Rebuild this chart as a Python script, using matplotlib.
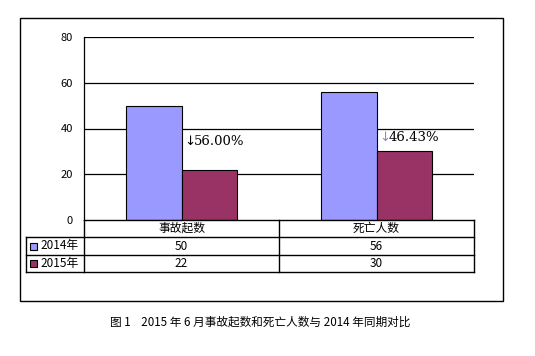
import matplotlib
matplotlib.use("Agg")
import matplotlib.pyplot as plt
from matplotlib.patches import Rectangle
from matplotlib.lines import Line2D

plt.rcParams['font.family'] = ['Noto Sans CJK SC', 'DejaVu Sans']

categories = ['事故起数', '死亡人数']
series_names = ['2014年', '2015年']
values_2014 = [50, 56]
values_2015 = [22, 30]
colors = ['#9999FF', '#993366']
yticks = [0, 20, 40, 60, 80]
caption = '图 1    2015 年 6 月事故起数和死亡人数与 2014 年同期对比'

W, H = 535, 356
fig = plt.figure(figsize=(W / 100, H / 100), dpi=100)

def fx(px):
    return px / W

def fy(py):
    return 1 - py / H

# plot area in pixels
L, R, T, B = 84, 474, 37, 220
ax = fig.add_axes([fx(L), fy(B), fx(R) - fx(L), fy(T) - fy(B)])

bw = 0.287
x = list(range(len(categories)))
ax.bar([i - bw / 2 for i in x], values_2014, bw, color=colors[0], edgecolor='black', linewidth=0.8, zorder=3)
ax.bar([i + bw / 2 for i in x], values_2015, bw, color=colors[1], edgecolor='black', linewidth=0.8, zorder=3)

ax.set_xlim(-0.5, len(categories) - 0.5)
ax.set_ylim(0, 80)
ax.set_yticks(yticks)
ax.set_yticklabels([str(t) for t in yticks], fontsize=8)
ax.tick_params(axis='y', length=0, pad=8)
ax.set_xticks([])
for t in yticks[1:]:
    ax.axhline(t, color='black', linewidth=0.9, zorder=1)
for s in ['top', 'right', 'bottom']:
    ax.spines[s].set_visible(False)
ax.spines['left'].set_linewidth(0.9)

# annotations
arrow_colors = ['black', '#7f8fc8']
for i, (a, b) in enumerate(zip(values_2014, values_2015)):
    pct = (a - b) / a * 100
    yy = [34.5, 36.0][i]
    ax.text(i + 0.012, yy, '↓', color=arrow_colors[i], fontsize=9.5,
            ha='left', va='center', family=['DejaVu Sans'])
    ax.text(i + 0.062, yy, f'{pct:.2f}%', color='black', fontsize=9.5,
            ha='left', va='center', family=['DejaVu Serif'])

# data table drawn below the axes
row_y = [220, 237, 255, 272]
col_x = [26, 84, 279, 474]
lw = 1.0
def hline(y, x0, x1):
    fig.add_artist(Line2D([fx(x0), fx(x1)], [fy(y), fy(y)], color='black', linewidth=lw))
def vline(xp, y0, y1):
    fig.add_artist(Line2D([fx(xp), fx(xp)], [fy(y0), fy(y1)], color='black', linewidth=lw))

hline(row_y[0], col_x[1], col_x[-1])
for y in row_y[1:]:
    hline(y, col_x[0], col_x[-1])
vline(col_x[0], row_y[1], row_y[-1])
for xp in col_x[1:]:
    vline(xp, row_y[0], row_y[-1])

for j, cat in enumerate(categories):
    cx = (col_x[j + 1] + col_x[j + 2]) / 2
    fig.text(fx(cx), fy((row_y[0] + row_y[1]) / 2), cat, ha='center', va='center', fontsize=8.5)
series_vals = [values_2014, values_2015]
for r, name in enumerate(series_names):
    cy = (row_y[r + 1] + row_y[r + 2]) / 2
    fig.add_artist(Rectangle((fx(30), fy(cy + 3.5)), fx(7), 7 / H, facecolor=colors[r],
                             edgecolor='black', linewidth=0.8))
    fig.text(fx(40), fy(cy), name, ha='left', va='center', fontsize=8.5)
    for j, v in enumerate(series_vals[r]):
        cx = (col_x[j + 1] + col_x[j + 2]) / 2
        fig.text(fx(cx), fy(cy), str(v), ha='center', va='center', fontsize=8.5)

# outer border
fig.add_artist(Rectangle((fx(20), fy(301)), fx(503) - fx(20), (301 - 18) / H,
                         fill=False, edgecolor='black', linewidth=1.0))

fig.text(fx(260), fy(322), caption, ha='center', va='center', fontsize=8.4)

fig.savefig('out.png', dpi=100)
